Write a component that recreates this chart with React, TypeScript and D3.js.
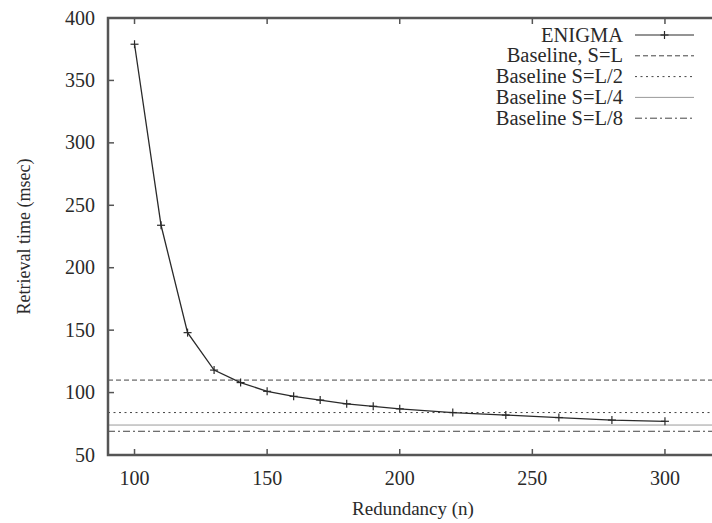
import React from "react";
import * as d3 from "d3";

const nValues = [100, 110, 120, 130, 140, 150, 160, 170, 180, 190, 200, 220, 240, 260, 280, 300];
const enigmaTimes = [379, 234, 148, 118, 108, 101, 97, 94, 91, 89, 87, 84, 82, 80, 78, 77];
const baselineLabels = ["Baseline, S=L", "Baseline S=L/2", "Baseline S=L/4", "Baseline S=L/8"];
const baselineTimes = [110, 84, 74, 69];
const xTicks = [100, 150, 200, 250, 300];
const yTicks = [50, 100, 150, 200, 250, 300, 350, 400];
const xTitle = "Redundancy (n)";
const yTitle = "Retrieval time (msec)";
const seriesName = "ENIGMA";

const W = 712, H = 523;
const L = 108, R = 718, T = 18, B = 455;
const FONT = "Liberation Serif, Times New Roman, Times, serif";
const INK = "#2a2a2a";

const baselineStyles = [
  { dash: "5,3", color: "#444", width: 1 },
  { dash: "2,3.5", color: "#444", width: 1 },
  { dash: "", color: "#9a9a9a", width: 1 },
  { dash: "7,3,2,3", color: "#444", width: 1 },
];

export default function App() {
  const x = d3.scaleLinear().domain([90, 320]).range([L, R]);
  const y = d3.scaleLinear().domain([50, 400]).range([B, T]);
  const pts = nValues.map((n, i) => [x(n), y(enigmaTimes[i])] as [number, number]);
  const line = d3.line()(pts) || "";
  const tick = 6;
  const legendX = 623;
  const legendY0 = 35;
  const legendDy = 20.8;
  const sampleX0 = 635, sampleX1 = 694;

  const plus = (cx: number, cy: number, k: string, s = 4) => (
    <g key={k} stroke={INK} strokeWidth={1.2}>
      <line x1={cx - s} x2={cx + s} y1={cy} y2={cy} />
      <line x1={cx} x2={cx} y1={cy - s} y2={cy + s} />
    </g>
  );

  const textStyle = { fontFamily: FONT, fill: INK } as React.CSSProperties;

  return (
    <svg width={W} height={H} style={{ position: "absolute", left: 0, top: 0, background: "#fff" }}>
      <defs>
        <clipPath id="plotclip">
          <rect x={L} y={T} width={R - L} height={B - T} />
        </clipPath>
      </defs>
      <rect x={0} y={0} width={W} height={H} fill="#fff" />
      <g clipPath="url(#plotclip)">
        {baselineTimes.map((v, i) => (
          <line key={i} x1={L} x2={R} y1={y(v)} y2={y(v)} stroke={baselineStyles[i].color}
            strokeWidth={baselineStyles[i].width} strokeDasharray={baselineStyles[i].dash || undefined} />
        ))}
        <path d={line} fill="none" stroke={INK} strokeWidth={1.3} />
        {pts.map((p, i) => plus(p[0], p[1], "p" + i))}
      </g>
      <g stroke="#555" strokeWidth={1.5}>
        {xTicks.map((t) => (
          <g key={"xt" + t}>
            <line x1={x(t)} x2={x(t)} y1={B} y2={B - tick} />
            <line x1={x(t)} x2={x(t)} y1={T} y2={T + tick} />
          </g>
        ))}
        {yTicks.map((t) => (
          <g key={"yt" + t}>
            <line x1={L} x2={L + tick} y1={y(t)} y2={y(t)} />
            <line x1={R} x2={R - tick} y1={y(t)} y2={y(t)} />
          </g>
        ))}
      </g>
      <rect x={L} y={T} width={R - L} height={B - T} fill="none" stroke="#555" strokeWidth={2.5} />
      <g style={{ ...textStyle, fontSize: "20px" }}>
        {xTicks.map((t) => (
          <text key={"xl" + t} x={x(t)} y={485} textAnchor="middle">{t}</text>
        ))}
        {yTicks.map((t) => (
          <text key={"yl" + t} x={95} y={y(t) + 6.5} textAnchor="end">{t}</text>
        ))}
        <text x={(L + R) / 2} y={515} textAnchor="middle" style={{ fontSize: "19px" }}>{xTitle}</text>
        <text transform={`translate(30,${(T + B) / 2}) rotate(-90)`} textAnchor="middle" style={{ fontSize: "18px" }}>{yTitle}</text>
      </g>
      <g style={{ ...textStyle, fontSize: "20.5px" }}>
        <text x={legendX} y={legendY0 + 6.5} textAnchor="end">{seriesName}</text>
        <line x1={sampleX0} x2={sampleX1} y1={legendY0} y2={legendY0} stroke={INK} strokeWidth={1.2} />
        {plus((sampleX0 + sampleX1) / 2, legendY0, "lp")}
        {baselineLabels.map((lab, i) => {
          const cy = legendY0 + legendDy * (i + 1);
          return (
            <g key={"lg" + i}>
              <text x={legendX} y={cy + 6.5} textAnchor="end">{lab}</text>
              <line x1={sampleX0} x2={sampleX1} y1={cy} y2={cy} stroke={baselineStyles[i].color}
                strokeWidth={baselineStyles[i].width} strokeDasharray={baselineStyles[i].dash || undefined} />
            </g>
          );
        })}
      </g>
    </svg>
  );
}
